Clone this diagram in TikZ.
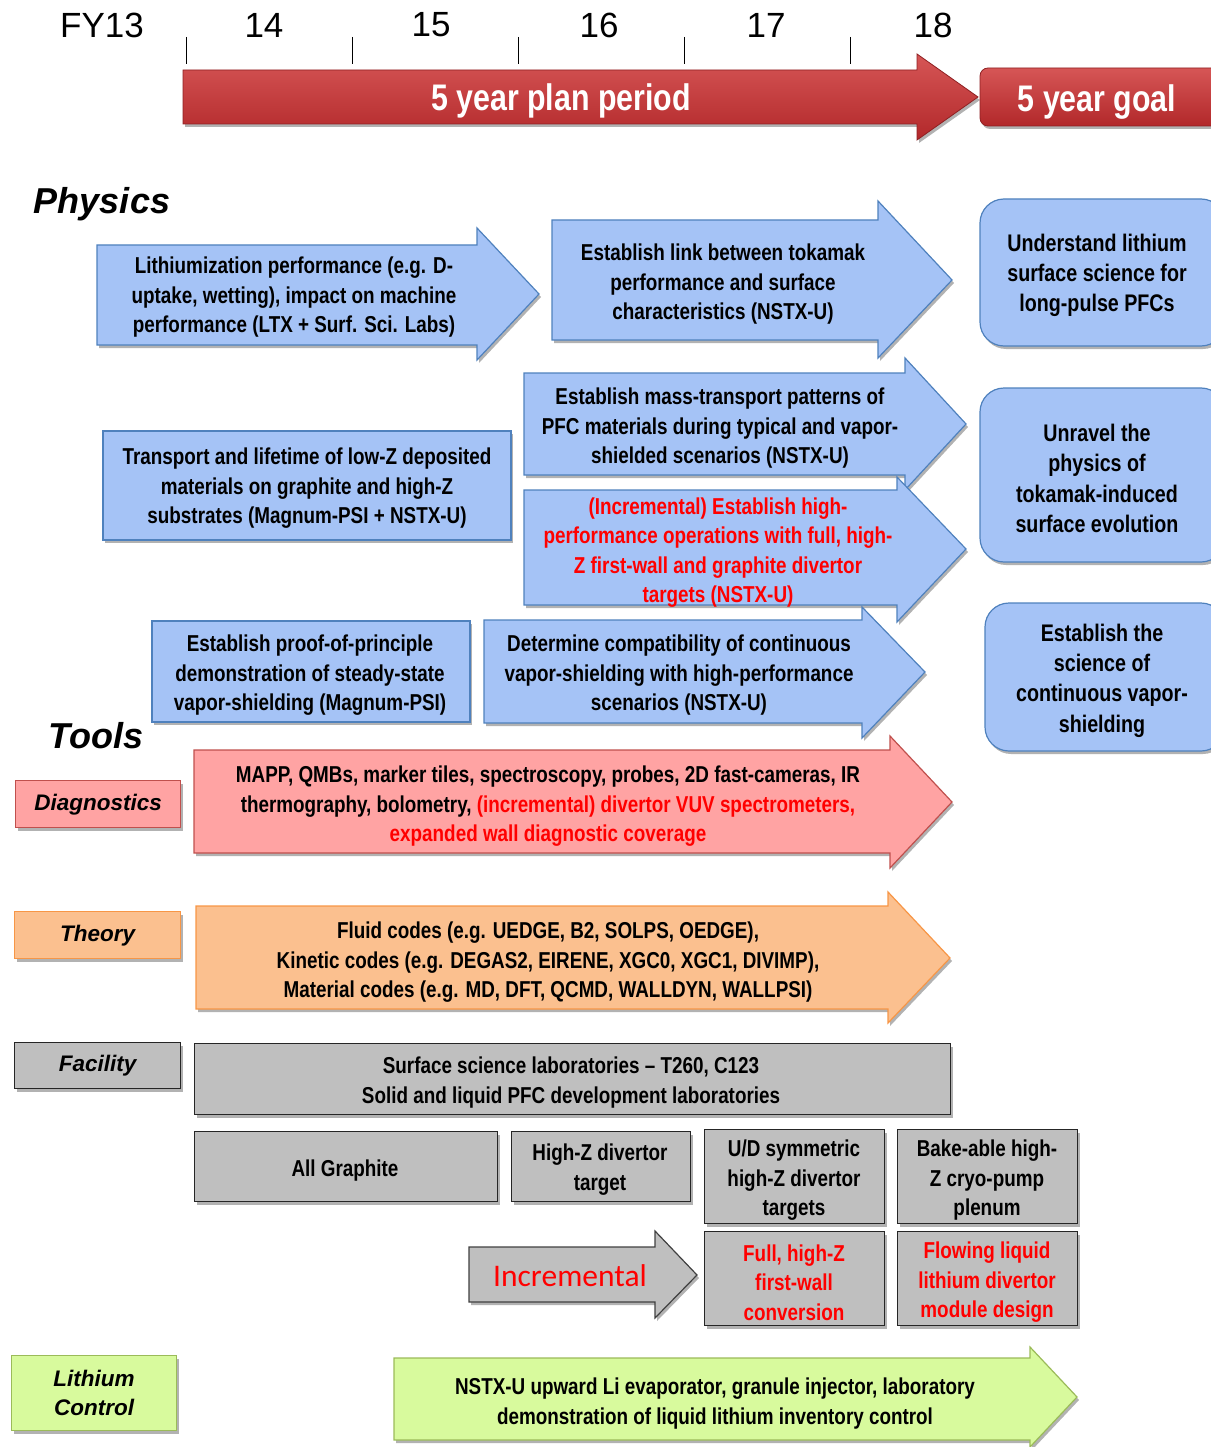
\documentclass[tikz,border=0pt]{standalone}
\usepackage{fontspec}
\setmainfont{Liberation Sans}[Ligatures=TeX]
\newfontfamily\nf{Liberation Sans}[FakeStretch=0.82,Ligatures=TeX]
\newfontfamily\cf{Carlito}
\usetikzlibrary{shadows}
\definecolor{bfill}{RGB}{165,195,246}
\definecolor{bdraw}{RGB}{79,129,189}
\definecolor{rfill}{RGB}{255,163,163}
\definecolor{rdraw}{RGB}{192,80,77}
\definecolor{ofill}{RGB}{251,192,143}
\definecolor{odraw}{RGB}{247,150,70}
\definecolor{gfill}{RGB}{191,191,191}
\definecolor{lfill}{RGB}{216,250,157}
\definecolor{ldraw}{RGB}{155,187,89}
\definecolor{tred}{RGB}{255,0,0}
\definecolor{bigtop}{RGB}{214,86,86}
\definecolor{bigbot}{RGB}{178,40,42}
\newcommand\barrow[9]{\path[#1] (#2,#3) -- (#4,#3) -- (#4,#6) -- (#8,#9) -- (#4,#7) -- (#4,#5) -- (#2,#5) -- cycle;}
\newcommand\rt[1]{\textcolor{tred}{#1}}
\begin{document}
\begin{tikzpicture}[x=1pt,y=-1pt,
  shad/.style={drop shadow={shadow xshift=2pt,shadow yshift=-3pt,opacity=0.3,fill=black}},
  txt/.style={font=\nf\bfseries\fontsize{23}{29.5}\selectfont,align=center,inner sep=0pt,yshift=-2.5pt},
  gtxt/.style={font=\nf\bfseries\fontsize{24}{30.3}\selectfont,align=center,inner sep=0pt,yshift=-2.5pt},
  lab/.style={font=\bfseries\itshape\fontsize{22.5}{29}\selectfont,align=center,inner sep=0pt,anchor=north west,shad,line width=1.2pt},
  blue/.style={fill=bfill,draw=bdraw,line width=1.2pt,shad},
  redar/.style={fill=rfill,draw=rdraw,line width=1.2pt,shad},
  orar/.style={fill=ofill,draw=odraw,line width=1.2pt,shad},
  grar/.style={fill=gfill,draw=black!75,line width=1.2pt,shad},
  liar/.style={fill=lfill,draw=ldraw,line width=1.2pt,shad},
  bigar/.style={top color=bigtop,bottom color=bigbot,draw=bigbot!80!black,line width=0.8pt,shad},
  gbox/.style={fill=gfill,draw=black!85,line width=1.3pt,shad,anchor=north west,inner sep=0pt},
  year/.style={font=\fontsize{35}{40}\selectfont,inner sep=0pt},
  tick/.style={line width=1pt}
]
\useasboundingbox (0,0) rectangle (1210,1447);

% ---------- timeline ----------
\node[year] (fy13) at (102,25) {FY13};
\node[year] (y14) at (264,25) {14};
\node[year] (y15) at (431,25) {15};
\node[year] (y16) at (599,25) {16};
\node[year] (y17) at (766,25) {17};
\node[year] (y18) at (933,25) {18};
\foreach \x in {186,352,518,684,850} \draw[tick] (\x,37) -- (\x,64);
\barrow{bigar}{183}{70}{917}{124}{54}{140}{978}{97}
\node[font=\nf\bfseries\fontsize{37}{40}\selectfont,text=white,inner sep=0pt,yshift=-3pt] (plan) at (561,98) {5 year plan period};
\path[bigar,rounded corners=8pt] (980,68) rectangle (1220,126);
\node[font=\nf\bfseries\fontsize{37}{40}\selectfont,text=white,inner sep=0pt,yshift=-3pt] (goal) at (1097,99) {5 year goal};

% ---------- Physics ----------
\node[font=\bfseries\itshape\fontsize{36}{40}\selectfont,inner sep=0pt] (phys) at (102,204) {Physics};

\barrow{blue}{97}{245}{477}{345}{228}{360}{539}{294}
\node[txt] (a1) at (294,295) {Lithiumization performance (e.g. D-\\uptake, wetting), impact on machine\\performance (LTX + Surf. Sci. Labs)};

\barrow{blue}{552}{220}{878}{340}{201}{358}{952}{280}
\node[txt] (a2) at (723,282) {Establish link between tokamak\\performance and surface\\characteristics (NSTX-U)};

\path[blue,rounded corners=24pt] (980,199) rectangle (1225,346);
\node[gtxt] (g1) at (1097,273) {Understand lithium\\surface science for\\long-pulse PFCs};

\barrow{blue}{524}{373}{905}{475}{358}{490}{966}{424}
\node[txt] (a3) at (720,426) {Establish mass-transport patterns of\\PFC materials during typical and vapor-\\shielded scenarios (NSTX-U)};

\barrow{blue}{524}{490}{897}{605}{477}{622}{966}{549}
\node[txt,text=tred] (a4) at (718,550) {(Incremental) Establish high-\\performance operations with full, high-\\Z first-wall and graphite divertor\\targets (NSTX-U)};

\path[blue] (103,431) rectangle (511,540);
\node[txt] (b1) at (307,486) {Transport and lifetime of low-Z deposited\\materials on graphite and high-Z\\substrates (Magnum-PSI + NSTX-U)};

\path[blue,rounded corners=24pt] (980,388) rectangle (1225,562);
\node[gtxt] (g2) at (1097,476) {Unravel the\\physics of\\tokamak-induced\\surface evolution};

\path[blue] (152,621) rectangle (470,722);
\node[txt] (c1) at (310,673) {Establish proof-of-principle\\demonstration of steady-state\\vapor-shielding (Magnum-PSI)};

\barrow{blue}{484}{620}{862}{723}{607}{738}{925}{672}
\node[txt] (c2) at (679,673) {Determine compatibility of continuous\\vapor-shielding with high-performance\\scenarios (NSTX-U)};

\path[blue,rounded corners=24pt] (985,603) rectangle (1225,751);
\node[gtxt] (g3) at (1102,678) {Establish the\\science of\\continuous vapor-\\shielding};

% ---------- Tools ----------
\node[font=\bfseries\itshape\fontsize{36}{40}\selectfont,inner sep=0pt] (tools) at (96,736) {Tools};

\node[lab,fill=rfill,draw=rdraw,minimum width=165pt,minimum height=47pt,text height=17pt,text depth=5pt] (ldiag) at (15,780) {Diagnostics};
\barrow{redar}{194}{750}{890}{853}{736}{868}{952}{802}
\node[txt] (diag) at (548,804) {MAPP, QMBs, marker tiles, spectroscopy, probes, 2D fast-cameras, IR\\thermography, bolometry, \rt{(incremental) divertor VUV spectrometers,}\\\rt{expanded wall diagnostic coverage}};

\node[lab,fill=ofill,draw=odraw,minimum width=166pt,minimum height=47pt,text height=17pt,text depth=5pt] (lth) at (14,911) {Theory};
\barrow{orar}{196}{906}{888}{1009}{892}{1023}{950}{958}
\node[txt] (th) at (548,960) {Fluid codes (e.g. UEDGE, B2, SOLPS, OEDGE),\\Kinetic codes (e.g. DEGAS2, EIRENE, XGC0, XGC1, DIVIMP),\\Material codes (e.g. MD, DFT, QCMD, WALLDYN, WALLPSI)};

\node[lab,fill=gfill,draw=black!85,minimum width=166pt,minimum height=46pt,text height=17pt,text depth=5pt] (lfac) at (14,1042) {Facility};
\node[gbox,minimum width=756pt,minimum height=71pt] (fac) at (194,1043) {};
\node[txt] (factxt) at (571,1080) {Surface science laboratories – T260, C123\\Solid and liquid PFC development laboratories};

\node[gbox,minimum width=303pt,minimum height=70pt] (allg) at (194,1131) {};
\node[txt] (allgt) at (345,1168) {All Graphite};
\node[gbox,minimum width=179pt,minimum height=70pt] (hz) at (511,1131) {};
\node[txt] (hzt) at (600,1167) {High-Z divertor\\target};
\node[gbox,minimum width=180pt,minimum height=94pt] (ud) at (704,1129) {};
\node[txt] (udt) at (794,1178) {U/D symmetric\\high-Z divertor\\targets};
\node[gbox,minimum width=180pt,minimum height=94pt] (bake) at (897,1129) {};
\node[txt] (baket) at (987,1178) {Bake-able high-\\Z cryo-pump\\plenum};

\barrow{grar}{469}{1247}{655}{1302}{1231}{1318}{697}{1275}
\node[font=\cf\fontsize{31.5}{34}\selectfont,text=tred,inner sep=0pt] (incr) at (570,1276) {Incremental};
\node[gbox,minimum width=180pt,minimum height=94pt] (full) at (704,1231) {};
\node[txt,text=tred] (fullt) at (794,1280) {Full, high-Z\\first-wall\\conversion};
\node[gbox,minimum width=180pt,minimum height=94pt] (flow) at (897,1231) {};
\node[txt,text=tred] (flowt) at (987,1280) {Flowing liquid\\lithium divertor\\module design};

\node[lab,fill=lfill,draw=ldraw,minimum width=165pt,minimum height=75pt] (lli) at (11,1355) {Lithium\\Control};
\barrow{liar}{394}{1358}{1030}{1440}{1347}{1447}{1077}{1397}
\node[txt] (li) at (715,1401) {NSTX-U upward Li evaporator, granule injector, laboratory\\demonstration of liquid lithium inventory control};
\end{tikzpicture}
\end{document}
